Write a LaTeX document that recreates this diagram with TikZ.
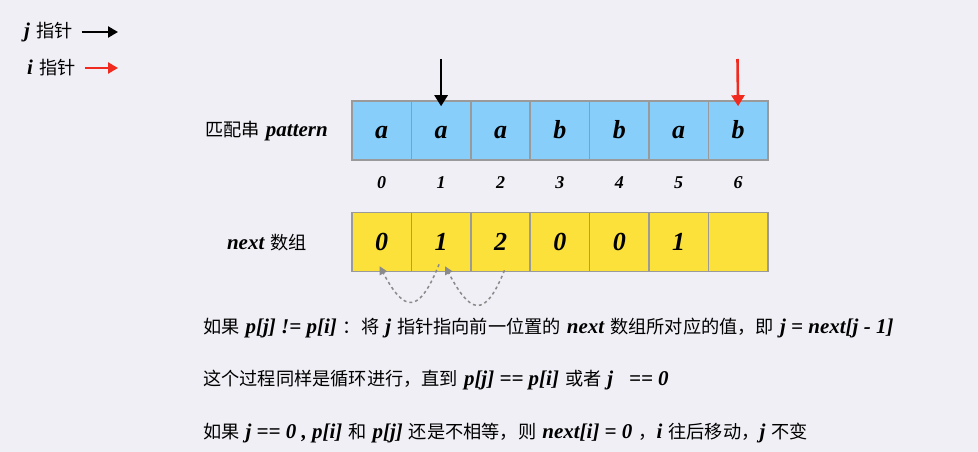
\documentclass[tikz,border=0pt]{standalone}
\usepackage{fontspec}
\setmainfont{Liberation Serif}
\newfontfamily\cjk{Noto Sans CJK SC}
\usepackage{tikz}
\usetikzlibrary{positioning, arrows.meta}
\definecolor{bgcolor}{HTML}{F0EFF5}
\definecolor{cellblue}{HTML}{87CEFA}
\definecolor{cellyellow}{HTML}{FBE13A}
\definecolor{cellborder}{HTML}{9A9A9A}
\definecolor{arcgray}{HTML}{8A8A8A}
\definecolor{ptrred}{HTML}{F02A1E}
\newcommand{\itx}[1]{{\rmfamily\bfseries\itshape\fontsize{21}{23}\selectfont #1}}
\newcommand{\ital}[1]{\hspace{6pt}\itx{#1}\hspace{6pt}}
\tikzset{
	cellnode/.style={
			shape=rectangle,
			draw=cellborder,
			line width=1.6pt,
			minimum width=59.4pt,
			minimum height=59pt,
			inner sep=0pt,
			text height=16pt,
			text depth=0pt,
			font=\fontsize{26}{28}\selectfont\bfseries\itshape
		},
	patternnode/.style={
			cellnode,
			fill=cellblue
		},
	nextnode/.style={
			cellnode,
			fill=cellyellow
		},
	idxtext/.style={font=\fontsize{18}{20}\selectfont\bfseries\itshape},
	labeltext/.style={font=\fontsize{18.2}{21}\selectfont\cjk, inner sep=0pt},
	ptrarrow/.style={-{Triangle[length=11pt,width=13pt]}, line width=2.6pt},
	legendarrow/.style={-{Triangle[length=10pt,width=11pt]}, line width=2.6pt},
	dasharc/.style={-{Triangle[length=8pt,width=8pt]}, arcgray, dashed, line width=1.5pt}
}

\begin{document}
\begin{tikzpicture}[x=1pt, y=-1pt]

  \fill[bgcolor] (0,0) rectangle (978,452);
  \useasboundingbox (0,0) rectangle (978,452);

  % legend
  \node[labeltext, anchor=west] (jlegend) at (18,32) {\ital{j}指针};
  \node[labeltext, anchor=west] (ilegend) at (21,68) {\ital{i}指针};
  \coordinate (jlegendend) at (118,32);
  \coordinate (ilegendend) at (118,68);
  \draw[legendarrow] ([xshift=9pt]jlegend.east) -- (jlegendend);
  \draw[legendarrow, ptrred] ([xshift=9pt]ilegend.east) -- (ilegendend);

  % pattern string
  \node[patternnode] (p0) at (381.7,130.5) {a};
  \node[patternnode] (p1) at (441.1,130.5) {a};
  \node[patternnode] (p2) at (500.5,130.5) {a};
  \node[patternnode] (p3) at (559.9,130.5) {b};
  \node[patternnode] (p4) at (619.3,130.5) {b};
  \node[patternnode] (p5) at (678.7,130.5) {a};
  \node[patternnode] (p6) at (738.1,130.5) {b};

  \node[labeltext, anchor=east] (plabel) at (328,131) {匹配串\ital{pattern}};

  % indices
  \node[idxtext] at (381.7,183) {0};
  \node[idxtext] at (441.1,183) {1};
  \node[idxtext] at (500.5,183) {2};
  \node[idxtext] at (559.9,183) {3};
  \node[idxtext] at (619.3,183) {4};
  \node[idxtext] at (678.7,183) {5};
  \node[idxtext] at (738.1,183) {6};

  % next array
  \node[nextnode] (n0) at (381.7,242) {0};
  \node[nextnode] (n1) at (441.1,242) {1};
  \node[nextnode] (n2) at (500.5,242) {2};
  \node[nextnode] (n3) at (559.9,242) {0};
  \node[nextnode] (n4) at (619.3,242) {0};
  \node[nextnode] (n5) at (678.7,242) {1};
  \node[nextnode] (n6) at (738.1,242) {};

  \node[labeltext, anchor=east] (nlabel) at (307,243) {\ital{next}数组};

  % pointers
  \coordinate (jtop) at (441.1,59);
  \coordinate (itop) at (737.5,59);
  \draw[ptrarrow] (jtop) -- ([yshift=-6pt]p1.north);
  \draw[ptrarrow, ptrred] (itop) -- ([yshift=-6pt]p6.north);

  % jumps back
  \draw[dasharc] ([xshift=4pt,yshift=2pt]n2.south) to[out=-112, in=-62, looseness=2.3] ([xshift=4pt,yshift=6pt]n1.south);
  \draw[dasharc] ([xshift=-2pt,yshift=8pt]n1.south) to[out=-112, in=-62, looseness=2.3] ([xshift=-2pt,yshift=6pt]n0.south);

  % explanation
  \node[labeltext, anchor=west] (line1) at (203,328) {如果\ital{p[j] != p[i]}：将\ital{j}指针指向前一位置的\ital{next}数组所对应的值，即\ital{j = next[j - 1]}};
  \node[labeltext, anchor=west] (line2) at (203,380) {这个过程同样是循环进行，直到\ital{p[j] == p[i]}或者\ital{j\ \ \ == 0}};
  \node[labeltext, anchor=west] (line3) at (203,433) {如果\ital{j == 0 , p[i]}和\ital{p[j]}还是不相等，则\ital{next[i] = 0}，\itx{i}\hspace{6pt}往后移动，\itx{j}\hspace{6pt}不变};

\end{tikzpicture}
\end{document}
